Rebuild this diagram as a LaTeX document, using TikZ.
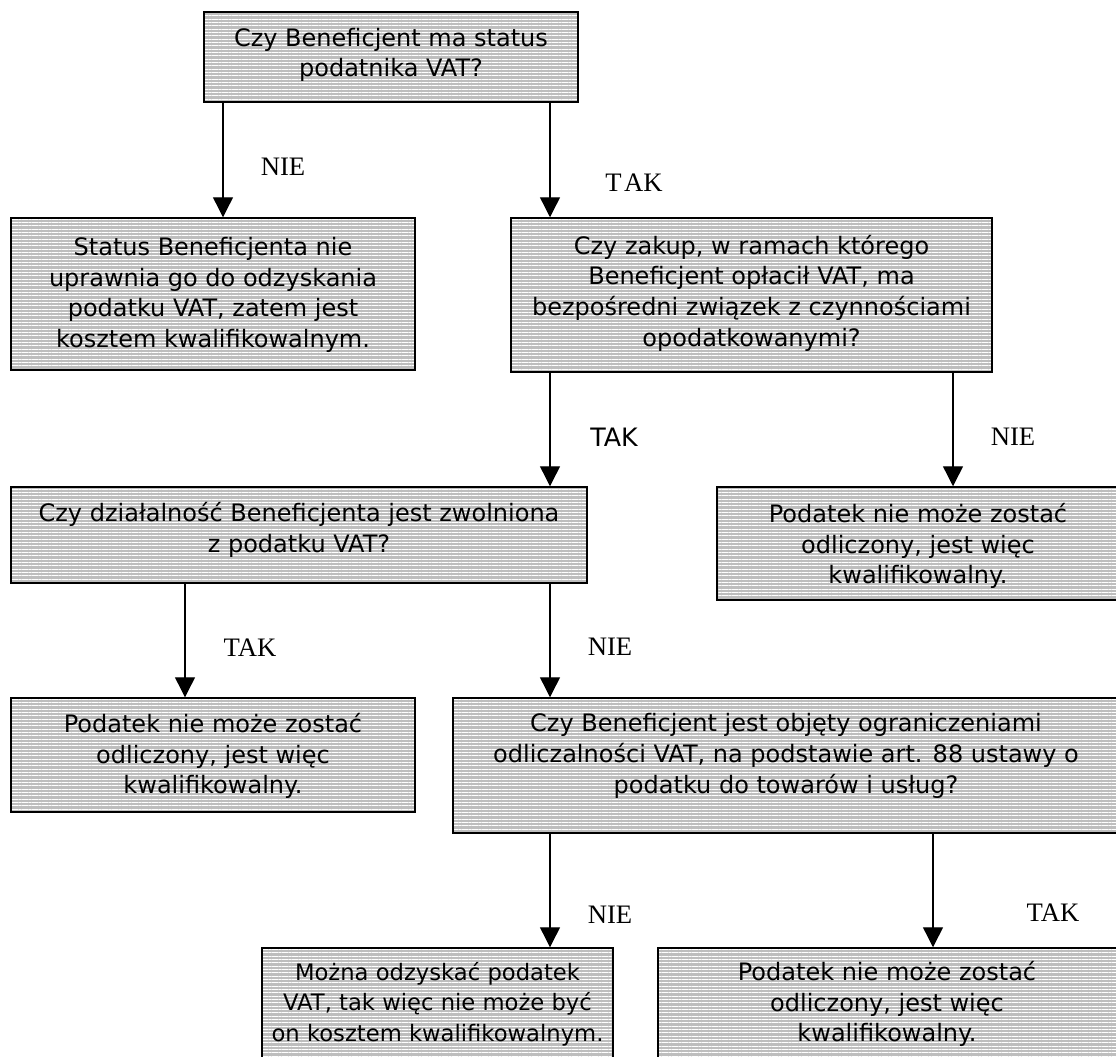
\documentclass[tikz,border=0pt]{standalone}
\usepackage{fontspec}
\setmainfont{DejaVu Sans}
\newfontfamily\seriflab{Liberation Serif}
\usetikzlibrary{arrows.meta,patterns.meta}
\definecolor{boxgray}{RGB}{190,190,190}
\begin{document}
\begin{tikzpicture}[x=0.75pt,y=-0.75pt,
  box/.style={draw=black, line width=1.1pt, rectangle, inner sep=0pt,
    preaction={fill=boxgray},
    pattern={Lines[angle=0,distance=2.5pt,line width=0.75pt]}, pattern color=white},
  txt/.style={align=center, inner sep=0pt, font=\fontsize{18}{23}\selectfont},
  lab/.style={inner sep=0pt, font=\seriflab\fontsize{20}{24}\selectfont},
  slab/.style={inner sep=0pt, font=\fontsize{19}{23}\selectfont},
  arr/.style={line width=1pt, -{Triangle[width=15pt,length=15pt]}}]
\useasboundingbox (0,0) rectangle (1116,1056);
\clip (0,0) rectangle (1116,1056);
% boxes
\node[box, minimum width=280.5pt, minimum height=67.5pt] (b1) at (391,57) {};
\node[box, minimum width=303pt, minimum height=114pt] (b2) at (213,294) {};
\node[box, minimum width=360.75pt, minimum height=115.5pt] (b3) at (751.5,295) {};
\node[box, minimum width=432pt, minimum height=72pt] (b4) at (299,535) {};
\node[box, minimum width=302.25pt, minimum height=84.75pt] (b5) at (918.5,543.5) {};
\node[box, minimum width=303pt, minimum height=85.5pt] (b6) at (213,755) {};
\node[box, minimum width=500.25pt, minimum height=101.25pt] (b7) at (786.5,765.5) {};
\node[box, minimum width=263.25pt, minimum height=84pt] (b8) at (437.5,1004) {};
\node[box, minimum width=346.5pt, minimum height=84pt] (b9) at (889,1004) {};
% texts
\node[txt] (t1) at (391,55) {Czy Beneficjent ma status\\podatnika VAT?};
\node[txt] (t2) at (213,295) {Status Beneficjenta nie\\uprawnia go do odzyskania\\podatku VAT, zatem jest\\kosztem kwalifikowalnym.};
\node[txt] (t3) at (751.5,293) {Czy zakup, w ramach którego\\Beneficjent opłacił VAT, ma\\bezpośredni związek z czynnościami\\opodatkowanymi?};
\node[txt] (t4) at (299,530) {Czy działalność Beneficjenta jest zwolniona\\z podatku VAT?};
\node[txt] (t5) at (918,546) {Podatek nie może zostać\\odliczony, jest więc\\kwalifikowalny.};
\node[txt] (t6) at (213,756) {Podatek nie może zostać\\odliczony, jest więc\\kwalifikowalny.};
\node[txt] (t7) at (786,756) {Czy Beneficjent jest objęty ograniczeniami\\odliczalności VAT, na podstawie art. 88 ustawy o\\podatku do towarów i usług?};
\node[txt, font=\fontsize{17}{23}\selectfont] (t8) at (437.5,1004) {Można odzyskać podatek\\VAT, tak więc nie może być\\on kosztem kwalifikowalnym.};
\node[txt] (t9) at (887,1004) {Podatek nie może zostać\\odliczony, jest więc\\kwalifikowalny.};
% connectors
\draw[arr] (b1.south -| 223,0) -- (b2.north -| 223,0);
\draw[arr] (b1.south -| 550,0) -- (b3.north -| 550,0);
\draw[arr] (b3.south -| 550,0) -- (b4.north -| 550,0);
\draw[arr] (b3.south -| 953,0) -- (b5.north -| 953,0);
\draw[arr] (b4.south -| 185,0) -- (b6.north -| 185,0);
\draw[arr] (b4.south -| 550,0) -- (b7.north -| 550,0);
\draw[arr] (b7.south -| 550,0) -- (b8.north -| 550,0);
\draw[arr] (b7.south -| 933,0) -- (b9.north -| 933,0);
% labels
\node[lab] (l1) at (283,167) {NIE};
\node[lab] (l2) at (634,183) {T\kern2pt AK};
\node[slab] (l3) at (614,437) {TAK};
\node[lab] (l4) at (1013,437) {NIE};
\node[lab] (l5) at (250,648) {TAK};
\node[lab] (l6) at (610,647) {NIE};
\node[lab] (l7) at (610,915) {NIE};
\node[lab] (l8) at (1053,913) {TAK};
\end{tikzpicture}
\end{document}
